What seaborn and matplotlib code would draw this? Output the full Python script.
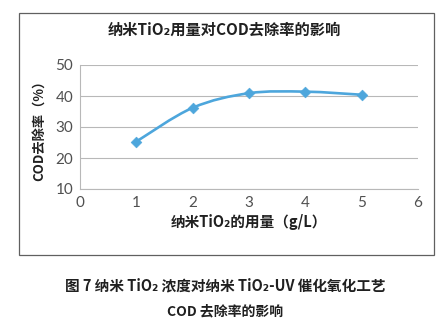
import matplotlib
matplotlib.use("Agg")
import matplotlib.pyplot as plt
import seaborn as sns
import pandas as pd
from matplotlib.path import Path
from matplotlib.patches import PathPatch, Rectangle

dose = [1, 2, 3, 4, 5]
removal = [25.3, 36.2, 40.9, 41.4, 40.4]
xticks = [0, 1, 2, 3, 4, 5, 6]
yticks = [10, 20, 30, 40, 50]

title = "纳米TiO₂用量对COD去除率的影响"
xlabel = "纳米TiO₂的用量（g/L）"
ylabel = "COD去除率（%）"
cap1 = "图 7 纳米 TiO₂ 浓度对纳米 TiO₂-UV 催化氧化工艺"
cap2 = "COD 去除率的影响"

sns.set_theme(style="white")
plt.rcParams['font.family'] = ['Noto Sans CJK SC', 'DejaVu Sans']

color = "#4da6dc"
df = pd.DataFrame({"dose": dose, "removal": removal})

fig = plt.figure(figsize=(4.46, 3.31), dpi=100)
ax = fig.add_axes([80/446, 1-189/331, (418-80)/446, (189-65)/331])

# smooth (Excel-like) curve through the data points
pts = list(zip(dose, removal))
verts = [pts[0]]
codes = [Path.MOVETO]
n = len(pts)
for i in range(n - 1):
    p0 = pts[i - 1] if i > 0 else pts[i]
    p1 = pts[i]
    p2 = pts[i + 1]
    p3 = pts[i + 2] if i + 2 < n else pts[i + 1]
    c1 = (p1[0] + (p2[0] - p0[0]) / 6, p1[1] + (p2[1] - p0[1]) / 6)
    c2 = (p2[0] - (p3[0] - p1[0]) / 6, p2[1] - (p3[1] - p1[1]) / 6)
    verts += [c1, c2, p2]
    codes += [Path.CURVE4] * 3
ax.add_patch(PathPatch(Path(verts, codes), facecolor="none", edgecolor=color, lw=1.9, zorder=3))

sns.scatterplot(data=df, x="dose", y="removal", marker="D", s=30, color=color,
                edgecolor=color, ax=ax, zorder=4)

ax.set_xlim(0, 6)
ax.set_ylim(10, 50)
ax.set_xticks(xticks)
ax.set_yticks(yticks)
ax.set_xticklabels([str(t) for t in xticks], fontsize=11, color="#505050", family=["Lato", "DejaVu Sans"])
ax.set_yticklabels([str(t) for t in yticks], fontsize=11, color="#505050", family=["Lato", "DejaVu Sans"])
ax.tick_params(axis="both", length=0, pad=5)
ax.yaxis.grid(True, color="#b8b8b8", lw=0.8)
ax.set_axisbelow(True)
for s in ["top", "right"]:
    ax.spines[s].set_visible(False)
for s in ["left", "bottom"]:
    ax.spines[s].set_color("#b8b8b8")
    ax.spines[s].set_linewidth(0.8)

ax.set_xlabel(xlabel, fontsize=10.5, fontweight="bold", color="#202020", labelpad=3)
ax.set_ylabel(ylabel, fontsize=9.5, fontweight="bold", color="#202020", labelpad=6)

fig.text(224/446, 1-30/331, title, ha="center", va="center", fontsize=11,
         fontweight="bold", color="#202020")

fig.patches.append(Rectangle((19/446, 1-255/331), (434-19)/446, (255-13)/331,
                             transform=fig.transFigure, fill=False, edgecolor="#606060", lw=0.9))

fig.text(225/446, 1-285/331, cap1, ha="center", va="center", fontsize=10.5,
         fontweight="bold", color="#202020")
fig.text(225/446, 1-311/331, cap2, ha="center", va="center", fontsize=10,
         fontweight="bold", color="#202020")

fig.savefig("out.png", dpi=100, facecolor="white")
